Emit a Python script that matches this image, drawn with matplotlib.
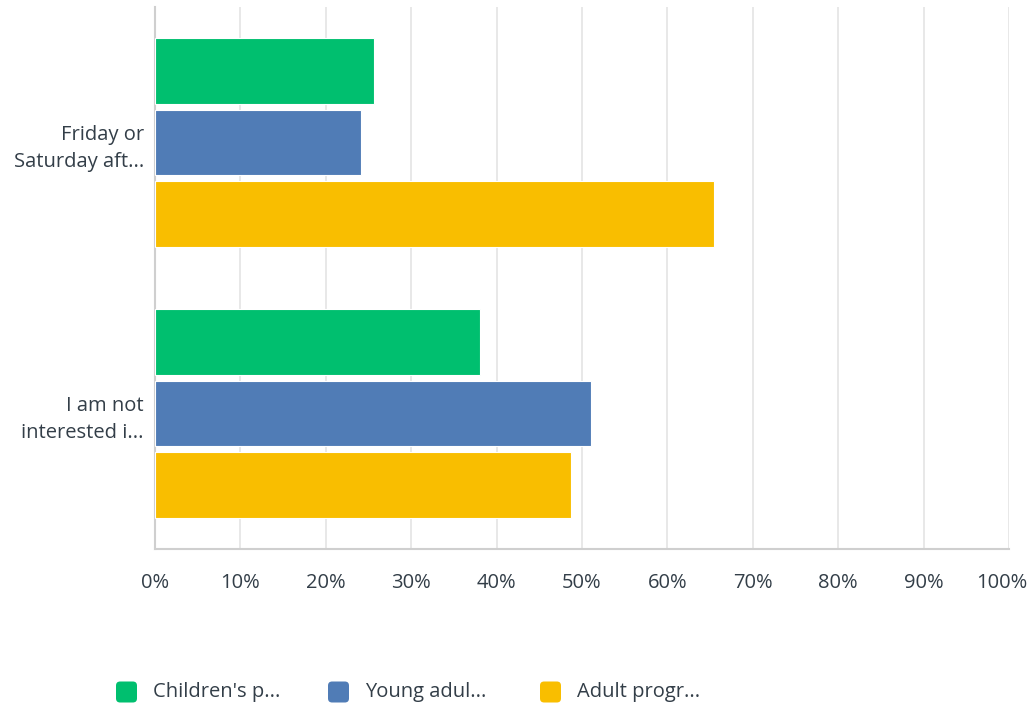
import matplotlib
matplotlib.use("Agg")
import matplotlib.pyplot as plt
from matplotlib.patches import FancyBboxPatch
import matplotlib.transforms as mtransforms
import numpy as np

categories = ["Friday or\nSaturday aft...", "I am not\ninterested i..."]
series_names = ["Children's p...", "Young adul...", "Adult progr..."]
children = [25.6, 38.1]
young_adult = [24.1, 51.1]
adult = [65.5, 48.7]
xticks = [0, 10, 20, 30, 40, 50, 60, 70, 80, 90, 100]
xtick_labels = [f"{t}%" for t in xticks]

colors = ["#00bf6f", "#507cb6", "#f9be00"]
text_color = "#333e48"

plt.rcParams['font.family'] = ['Open Sans', 'DejaVu Sans']

W, H = 1029, 710
fs = 14.5
fig = plt.figure(figsize=(W / 100, H / 100), dpi=100)
ax = fig.add_axes([155 / W, 1 - 549 / H, (1009 - 155) / W, (549 - 7) / H])

y = np.arange(len(categories))
offsets = [-0.264, 0.0, 0.264]
bar_h = 0.243
for vals, off, c in zip([children, young_adult, adult], offsets, colors):
    ax.barh(y + off, vals, height=bar_h, color=c, edgecolor="white", linewidth=0.8, zorder=3)

ax.set_xlim(0, 100)
ax.set_ylim(1.5, -0.5)
ax.set_xticks(xticks)
ax.set_xticklabels(xtick_labels, fontsize=fs, color=text_color)
ax.set_yticks(y)
ax.set_yticklabels(categories, fontsize=fs, color=text_color, linespacing=1.45)
ax.tick_params(axis="x", length=0, pad=17)
ax.tick_params(axis="y", length=0, pad=8)
ax.grid(axis="x", color="#e4e4e4", linewidth=1.2, zorder=0)
for s in ["top", "right"]:
    ax.spines[s].set_visible(False)
ax.spines["left"].set_color("#cfcfcf")
ax.spines["left"].set_linewidth(1.5)
ax.spines["bottom"].set_color("#cfcfcf")
ax.spines["bottom"].set_linewidth(1.5)

# shift last tick label left so it stays inside the figure
last = ax.get_xticklabels()[-1]
last.set_transform(last.get_transform() + mtransforms.ScaledTranslation(-7 / 100, 0, fig.dpi_scale_trans))

# legend
legend_x = [116, 328, 540]
sq = 21
ly = 692
for lx, name, c in zip(legend_x, series_names, colors):
    p = FancyBboxPatch(((lx) / W, 1 - (ly + sq / 2) / H), sq / W, sq / H,
                       boxstyle="round,pad=0,rounding_size=0.004",
                       transform=fig.transFigure, facecolor=c, edgecolor="none",
                       mutation_aspect=W / H)
    fig.patches.append(p)
    fig.text((lx + sq + 16) / W, 1 - ly / H, name, fontsize=fs, color=text_color,
             va="center", ha="left")

fig.savefig("out.png", dpi=100)
